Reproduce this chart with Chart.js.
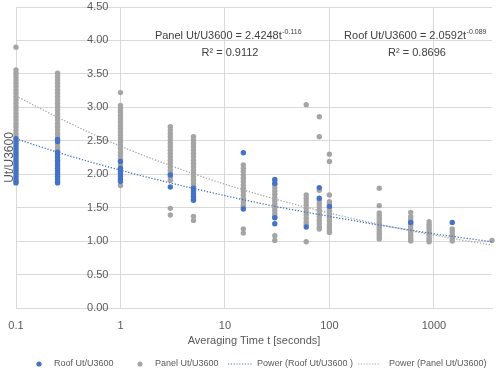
<!DOCTYPE html>
<html><head><meta charset="utf-8">
<script src="https://cdn.jsdelivr.net/npm/chart.js@4"></script>
<style>html,body{margin:0;padding:0;background:#fff}#wrap{width:498px;height:372px;position:relative}</style>
</head><body><div id="wrap"><canvas id="c"></canvas></div>
<script>
const seriesNames = ['Roof Ut/U3600', 'Panel Ut/U3600', 'Power (Roof Ut/U3600 )', 'Power (Panel Ut/U3600)'];
const xTitle = 'Averaging Time t [seconds]';
const yTitle = 'Ut/U3600';
const xTickValues = [0.1, 1, 10, 100, 1000];
const yTickStep = 0.5;

const roofTimes = [0.1, 0.25, 1, 3, 5, 15, 30, 60, 80, 100, 600, 1500];
const roofValues = [
  [2.53,2.49,2.45,2.41,2.37,2.33,2.29,2.25,2.21,2.17,2.13,2.09,2.05,2.01,1.97,1.93,1.89,1.87],
  [2.52,2.49,2.33,2.29,2.25,2.21,2.17,2.13,2.09,2.05,2.01,1.97,1.93,1.89,1.87],
  [2.19,2.09,2.05,2.01,1.97,1.93,1.89],
  [1.99,1.81],
  [1.79,1.75,1.71,1.67,1.63,1.61],
  [2.32,1.48],
  [1.92,1.86,1.35,1.26],
  [1.21],
  [1.80,1.64],
  [1.52],
  [1.28],
  [1.28]
];

const panelTimes = [0.1, 0.25, 1, 3, 5, 15, 30, 60, 80, 100, 300, 600, 900, 1500, 3600];
const panelValues = [
  [3.90,3.56,3.51,3.46,3.41,3.36,3.31,3.26,3.21,3.16,3.11,3.06,3.01,2.96,2.91,2.86,2.81,2.76,2.71,2.66,2.61,2.56],
  [3.51,3.46,3.41,3.36,3.31,3.26,3.21,3.16,3.11,3.06,3.01,2.96,2.91,2.86,2.81,2.76,2.71,2.66,2.61,2.56,2.45,2.40,2.36],
  [3.22,3.03,2.98,2.93,2.88,2.83,2.78,2.73,2.68,2.63,2.58,2.53,2.48,2.43,2.38,2.33,2.28,2.23,2.14,1.83],
  [2.71,2.66,2.61,2.56,2.51,2.46,2.41,2.36,2.31,2.26,2.21,2.16,2.11,2.06,2.01,1.96,1.91,1.49,1.39],
  [2.56,2.51,2.46,2.41,2.36,2.31,2.26,2.21,2.16,2.11,2.06,2.01,1.96,1.91,1.86,1.82,1.37,1.31],
  [2.14,2.09,2.04,1.99,1.94,1.89,1.84,1.79,1.74,1.69,1.64,1.59,1.54,1.51,1.18,1.12],
  [1.90,1.85,1.80,1.75,1.70,1.65,1.60,1.55,1.50,1.45,1.40,1.36,1.08,1.01],
  [3.04,1.69,1.64,1.59,1.54,1.49,1.44,1.39,1.34,1.29,1.25,0.99],
  [2.86,2.56,1.76,1.61,1.56,1.51,1.46,1.41,1.36,1.31,1.26,1.21,1.18],
  [2.30,2.19,1.69,1.59,1.55,1.50,1.45,1.40,1.35,1.30,1.25,1.20,1.16,1.13],
  [1.79,1.53,1.42,1.38,1.34,1.30,1.26,1.22,1.18,1.14,1.10,1.06,1.03],
  [1.43,1.37,1.33,1.29,1.25,1.21,1.17,1.13,1.09,1.05,1.02,1.00],
  [1.29,1.25,1.21,1.17,1.13,1.09,1.05,1.02,0.99],
  [1.18,1.14,1.10,1.06,1.03,1.00],
  [1.01]
];

const trendTimes = [0.1, 0.3, 1, 3, 10, 30, 100, 300, 1000, 3600];
const roofTrend  = [2.53, 2.29, 2.06, 1.87, 1.68, 1.52, 1.37, 1.24, 1.11, 0.99];
const panelTrend = [3.17, 2.79, 2.42, 2.13, 1.85, 1.63, 1.42, 1.25, 1.09, 0.94];

const panelEq = {text: 'Panel Ut/U3600 = 2.4248t', exp: '-0.116', r2: 'R² = 0.9112'};
const roofEq  = {text: 'Roof Ut/U3600 = 2.0592t',  exp: '-0.089', r2: 'R² = 0.8696'};

const BLUE = '#4472C4', GRAY = '#A5A5A5';
const FONT = "'Liberation Sans', Arial, sans-serif";
const TEXT = '#595959';

const pts = (times, vals) => times.flatMap((t, i) => vals[i].map(v => ({x: t, y: v})));
const line = (times, vals) => times.map((t, i) => ({x: t, y: vals[i]}));

const extras = {
  id: 'extras',
  afterDraw(chart) {
    const ctx = chart.ctx;
    const ca = chart.chartArea;
    const xs = chart.scales.x, ys = chart.scales.y;

    // y tick labels, right-aligned left of the vertical axis at t = 1
    ctx.save();
    ctx.fillStyle = TEXT;
    ctx.font = '11px ' + FONT;
    ctx.textAlign = 'right';
    ctx.textBaseline = 'middle';
    const axX = xs.getPixelForValue(1);
    ys.ticks.forEach(t => {
      ctx.fillText(t.value.toFixed(2), axX - 12, ys.getPixelForValue(t.value));
    });
    ctx.restore();

    // y title
    ctx.save();
    ctx.fillStyle = TEXT;
    ctx.font = '12px ' + FONT;
    ctx.textAlign = 'center';
    ctx.textBaseline = 'middle';
    ctx.translate(10, (ca.top + ca.bottom) / 2);
    ctx.rotate(-Math.PI / 2);
    ctx.fillText(yTitle, 0, 0);
    ctx.restore();

    // equations
    const drawEq = (eq, cx, y1, y2) => {
      ctx.save();
      ctx.fillStyle = '#404040';
      ctx.textBaseline = 'middle';
      ctx.font = '11px ' + FONT;
      const w1 = ctx.measureText(eq.text).width;
      ctx.font = '7px ' + FONT;
      const w2 = ctx.measureText(eq.exp).width;
      const x0 = cx - (w1 + w2) / 2;
      ctx.textAlign = 'left';
      ctx.font = '11px ' + FONT;
      ctx.fillText(eq.text, x0, y1);
      ctx.font = '7px ' + FONT;
      ctx.fillText(eq.exp, x0 + w1 + 0.5, y1 - 4);
      ctx.font = '11px ' + FONT;
      ctx.textAlign = 'center';
      ctx.fillText(eq.r2, cx + 2, y2);
      ctx.restore();
    };
    drawEq(panelEq, 228, 36, 53);
    drawEq(roofEq, 415, 36, 53);

    // legend
    ctx.save();
    ctx.font = '9px ' + FONT;
    ctx.textBaseline = 'middle';
    ctx.textAlign = 'left';
    const ly = 364;
    const items = [
      {kind: 'dot', color: BLUE, mx: 39, tx: 54},
      {kind: 'dot', color: GRAY, mx: 140, tx: 155},
      {kind: 'line', color: BLUE, mx: 228, mx2: 252, tx: 257},
      {kind: 'line', color: GRAY, mx: 358, mx2: 380, tx: 389}
    ];
    items.forEach((it, i) => {
      if (it.kind === 'dot') {
        ctx.fillStyle = it.color;
        ctx.beginPath();
        ctx.arc(it.mx, ly, 2.6, 0, Math.PI * 2);
        ctx.fill();
      } else {
        ctx.strokeStyle = it.color;
        ctx.lineWidth = 1.2;
        ctx.setLineDash([1.2, 1.6]);
        ctx.beginPath();
        ctx.moveTo(it.mx, ly);
        ctx.lineTo(it.mx2, ly);
        ctx.stroke();
        ctx.setLineDash([]);
      }
      ctx.fillStyle = TEXT;
      ctx.fillText(seriesNames[i], it.tx, ly);
    });
    ctx.restore();
  }
};

new Chart(document.getElementById('c'), {
  type: 'scatter',
  data: {
    datasets: [
      {label: seriesNames[0], data: pts(roofTimes, roofValues), backgroundColor: BLUE, borderColor: BLUE,
       pointRadius: 2.7, pointBorderWidth: 0, clip: false, order: 1},
      {label: seriesNames[1], data: pts(panelTimes, panelValues), backgroundColor: GRAY, borderColor: GRAY,
       pointRadius: 2.7, pointBorderWidth: 0, clip: false, order: 2},
      {label: seriesNames[2], data: line(trendTimes, roofTrend), showLine: true, borderColor: BLUE,
       borderWidth: 1.3, borderDash: [1.3, 1.7], pointRadius: 0, cubicInterpolationMode: 'monotone', order: 0},
      {label: seriesNames[3], data: line(trendTimes, panelTrend), showLine: true, borderColor: GRAY,
       borderWidth: 1.3, borderDash: [1.3, 1.7], pointRadius: 0, cubicInterpolationMode: 'monotone', order: 0}
    ]
  },
  options: {
    responsive: true,
    maintainAspectRatio: false,
    animation: false,
    layout: {padding: {left: 16, right: 6, top: 7, bottom: 22}},
    plugins: {legend: {display: false}, tooltip: {enabled: false}},
    scales: {
      x: {
        type: 'logarithmic', min: 0.1, max: 3600,
        afterBuildTicks: s => { s.ticks = xTickValues.map(v => ({value: v})); },
        afterFit: s => { s.height = 42; s.paddingLeft = 0; s.paddingRight = 0; },
        ticks: {
          callback: v => (v < 1 ? '0.1' : String(v)),
          font: {family: FONT, size: 11}, color: TEXT, maxRotation: 0, autoSkip: false, padding: 11
        },
        grid: {color: '#d9d9d9', drawTicks: false},
        border: {color: '#d9d9d9'},
        title: {display: true, text: xTitle, font: {family: FONT, size: 11}, color: TEXT, padding: {top: 3, bottom: 2}}
      },
      y: {
        type: 'linear', min: 0, max: 4.5, position: {x: 1},
        afterFit: s => { s.paddingTop = 0; s.paddingBottom = 0; },
        ticks: {stepSize: yTickStep, display: false},
        grid: {color: '#d9d9d9', drawTicks: false},
        border: {display: false}
      }
    }
  },
  plugins: [extras]
});
</script>
</body></html>
